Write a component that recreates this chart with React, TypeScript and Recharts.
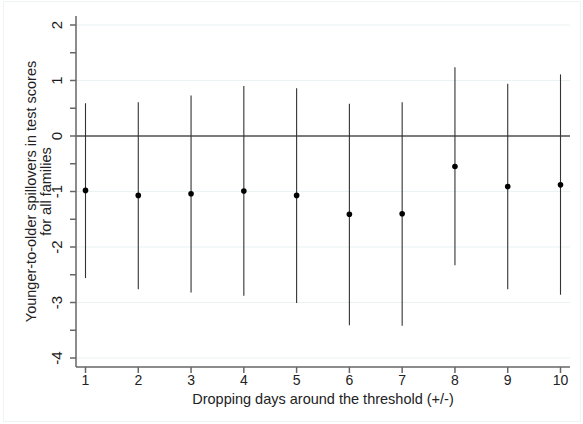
import React from 'react';
import {
  ScatterChart,
  Scatter,
  XAxis,
  YAxis,
  ErrorBar,
  ReferenceLine,
} from 'recharts';

// days dropped around the threshold
const days = [1, 2, 3, 4, 5, 6, 7, 8, 9, 10];
// point estimates and 95% CI bounds
const estimates = [-0.98, -1.07, -1.04, -0.99, -1.07, -1.41, -1.40, -0.55, -0.91, -0.88];
const lowerCI = [-2.56, -2.76, -2.82, -2.88, -3.01, -3.41, -3.42, -2.33, -2.76, -2.86];
const upperCI = [0.59, 0.61, 0.73, 0.90, 0.86, 0.58, 0.61, 1.24, 0.94, 1.11];

const yMajorTicks = [-4, -3, -2, -1, 0, 1, 2];
const yMinorTicks = [-3.5, -2.5, -1.5, -0.5, 0.5, 1.5];
const yAllTicks = [...yMajorTicks, ...yMinorTicks].sort((a, b) => a - b);

const rows = days.map((d, i) => ({
  day: d,
  est: estimates[i],
  ci: [estimates[i] - lowerCI[i], upperCI[i] - estimates[i]],
}));

const FONT = '"Liberation Sans", Arial, Helvetica, sans-serif';

const renderYTick = (props: any) => {
  const { x, y, payload } = props;
  const v = payload.value;
  if (!Number.isInteger(v)) return <g />;
  return (
    <g transform={`translate(${x},${y}) rotate(-90)`}>
      <text x={0} y={0} textAnchor="middle" fontSize={15} fontFamily={FONT} fill="#1a1a1a">
        {String(v)}
      </text>
    </g>
  );
};

const YLabel = (props: any) => {
  const vb = props.viewBox || {};
  const cy = (vb.y || 0) + (vb.height || 0) / 2;
  return (
    <g style={{ fontSize: 14.5, fontFamily: FONT, fill: '#222' }}>
      <text x={36} y={cy} transform={`rotate(-90 36 ${cy})`} textAnchor="middle">
        Younger-to-older spillovers in test scores
      </text>
      <text x={51} y={cy} transform={`rotate(-90 51 ${cy})`} textAnchor="middle">
        for all families
      </text>
    </g>
  );
};

export default function App() {
  return (
    <div
      style={{
        position: 'absolute',
        left: 0,
        top: 0,
        width: 583,
        height: 424,
        background: '#fff',
      }}
    >
      <div
        style={{
          position: 'absolute',
          left: 3,
          top: 1,
          width: 578,
          height: 421,
          border: '1px solid #eef3f3',
          boxSizing: 'border-box',
        }}
      />
      <ScatterChart
        width={583}
        height={424}
        margin={{ top: 16, right: 13, bottom: 0, left: 0 }}
        style={{ position: 'absolute', left: 0, top: 0 }}
      >
        {yMajorTicks.map((v) => (
          <ReferenceLine key={v} y={v} stroke="#eaf2f3" strokeWidth={1.2} />
        ))}
        <ReferenceLine y={0} stroke="#000" strokeWidth={1.2} />
        <XAxis
          type="number"
          dataKey="day"
          domain={[0.82, 10.18]}
          ticks={days}
          allowDataOverflow
          height={57}
          tickSize={6}
          tickMargin={2}
          stroke="#666"
          strokeWidth={1.5}
          tick={{ fontSize: 14, fontFamily: FONT, fill: '#222' }}
          label={{
            value: 'Dropping days around the threshold (+/-)',
            position: 'insideBottom',
            offset: 20,
            fontSize: 14.5,
            fontFamily: FONT,
            fill: '#222',
          }}
        />
        <YAxis
          type="number"
          dataKey="est"
          domain={[-4.162, 2.162]}
          ticks={yAllTicks}
          interval={0}
          allowDataOverflow
          width={76}
          tickSize={6}
          tickMargin={8}
          stroke="#666"
          strokeWidth={1.5}
          tick={renderYTick}
          label={<YLabel />}
        />
        <Scatter data={rows} fill="#000" isAnimationActive={false} shape={(p: any) => <circle cx={p.cx} cy={p.cy} r={2.8} fill="#000" />}>
          <ErrorBar dataKey="ci" direction="y" width={0} stroke="#333" strokeWidth={1.1} isAnimationActive={false} />
        </Scatter>
      </ScatterChart>
    </div>
  );
}
